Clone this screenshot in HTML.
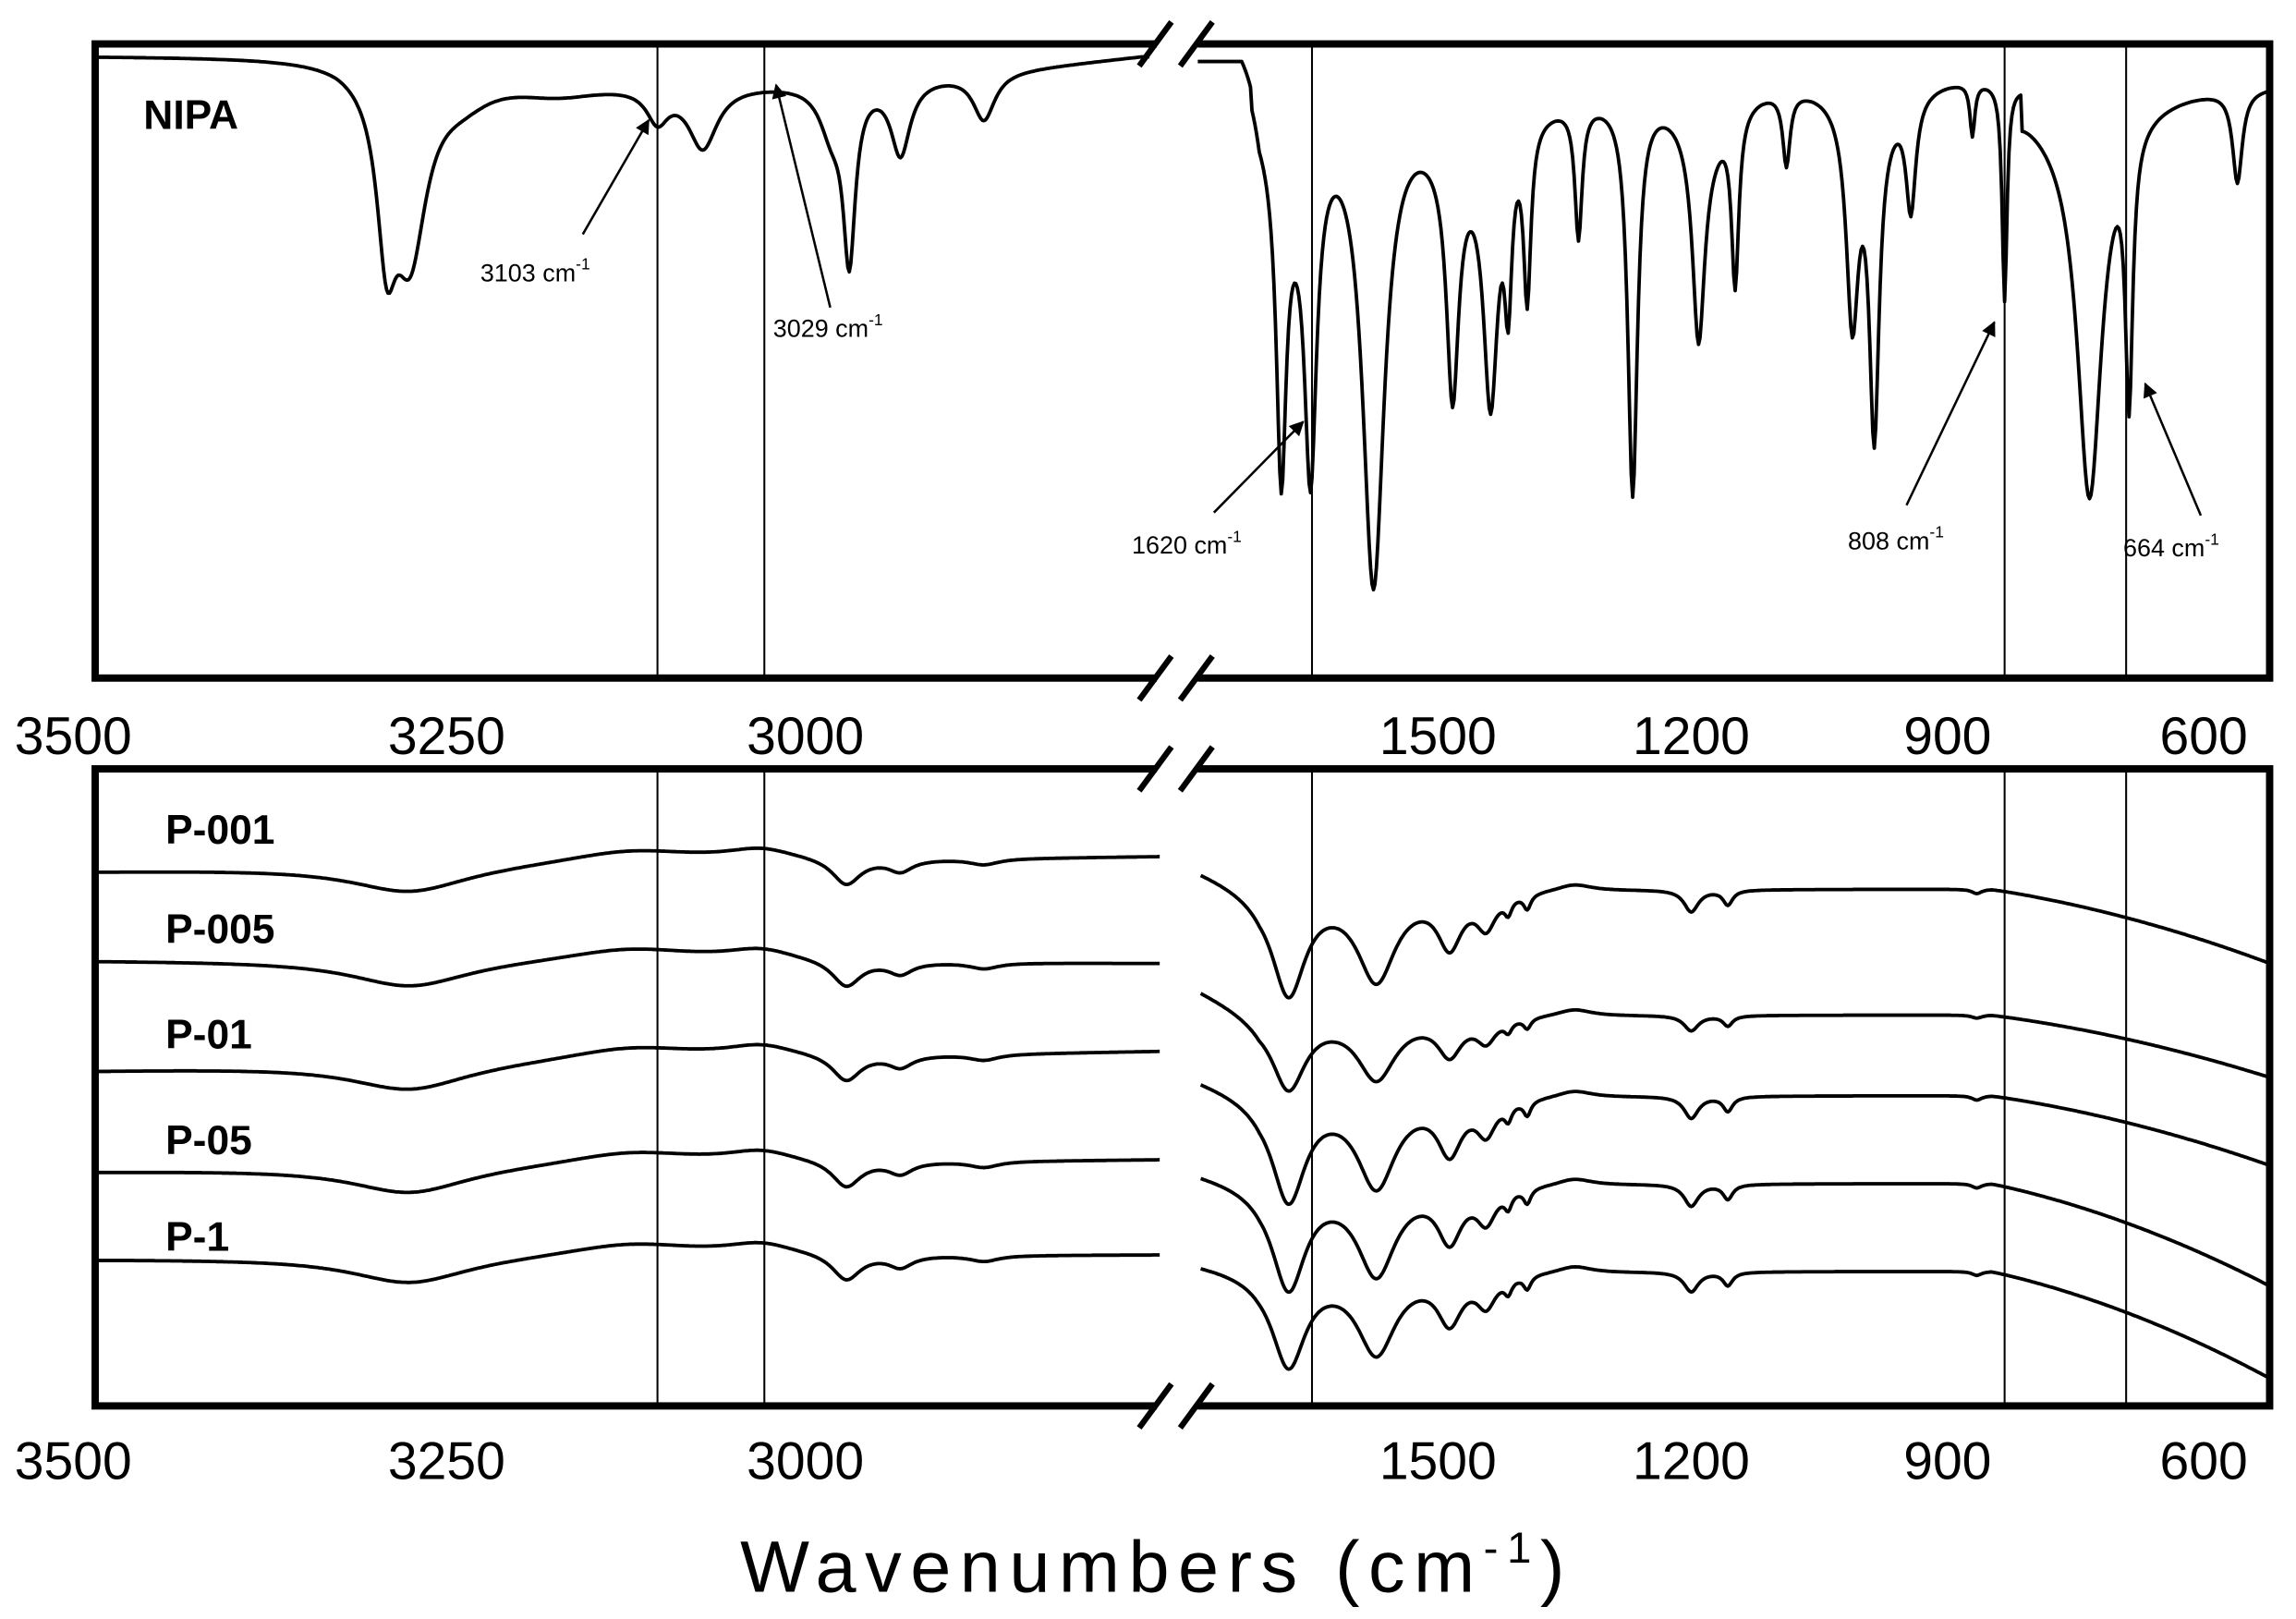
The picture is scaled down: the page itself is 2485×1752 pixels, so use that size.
<!DOCTYPE html>
<html><head><meta charset="utf-8"><style>
html,body{margin:0;padding:0;background:#fff}
svg{display:block}
text{font-family:"Liberation Sans",Arial,sans-serif;fill:#000}
</style></head><body>
<svg id="s" width="2485" height="1752" viewBox="0 0 1568 1105.5" preserveAspectRatio="none" xmlns="http://www.w3.org/2000/svg">
<rect width="1568" height="1106" fill="#fff"/>
<g id="curves" fill="none" stroke="#000" stroke-width="2.4" stroke-linejoin="round"></g>
<g stroke="#000" stroke-width="1.3">
<line x1="449" y1="30" x2="449" y2="463"/><line x1="522" y1="30" x2="522" y2="463"/>
<line x1="896" y1="30" x2="896" y2="463"/><line x1="1369" y1="30" x2="1369" y2="463"/><line x1="1452" y1="30" x2="1452" y2="463"/>
<line x1="449" y1="525" x2="449" y2="960"/><line x1="522" y1="525" x2="522" y2="960"/>
<line x1="896" y1="525" x2="896" y2="960"/><line x1="1369" y1="525" x2="1369" y2="960"/><line x1="1452" y1="525" x2="1452" y2="960"/>
</g>
<g fill="none" stroke="#000" stroke-width="5">
<rect x="65" y="30" width="1485" height="433"/>
<rect x="65" y="525" width="1485" height="435"/>
</g>
<g stroke="#000" stroke-width="4">
<rect x="790" y="20" width="28" height="20" fill="#fff" stroke="none"/>
<rect x="790" y="453" width="28" height="20" fill="#fff" stroke="none"/>
<rect x="790" y="515" width="28" height="20" fill="#fff" stroke="none"/>
<rect x="790" y="950" width="28" height="20" fill="#fff" stroke="none"/>
<line x1="778" y1="45" x2="800" y2="15"/><line x1="806" y1="45" x2="828" y2="15"/>
<line x1="778" y1="478" x2="800" y2="448"/><line x1="806" y1="478" x2="828" y2="448"/>
<line x1="778" y1="540" x2="800" y2="510"/><line x1="806" y1="540" x2="828" y2="510"/>
<line x1="778" y1="975" x2="800" y2="945"/><line x1="806" y1="975" x2="828" y2="945"/>
</g>
<g font-size="36" text-anchor="middle">
<text x="50" y="515">3500</text><text x="305" y="515">3250</text><text x="550" y="515">3000</text>
<text x="982" y="515">1500</text><text x="1155" y="515">1200</text><text x="1330" y="515">900</text><text x="1505" y="515">600</text>
<text x="50" y="1010">3500</text><text x="305" y="1010">3250</text><text x="550" y="1010">3000</text>
<text x="982" y="1010">1500</text><text x="1155" y="1010">1200</text><text x="1330" y="1010">900</text><text x="1505" y="1010">600</text>
</g>
<text x="790" y="1087" font-size="50" text-anchor="middle" letter-spacing="6">Wavenumbers (cm<tspan font-size="30" dy="-20">-1</tspan><tspan dy="20">)</tspan></text>
<g font-size="28" font-weight="bold">
<text x="98" y="88">NIPA</text>
<text x="113" y="576">P-001</text><text x="113" y="644">P-005</text><text x="113" y="716">P-01</text>
<text x="113" y="788">P-05</text><text x="113" y="854">P-1</text>
</g>
<g font-size="17">
<text x="328" y="192">3103 cm<tspan font-size="11" dy="-8">-1</tspan></text>
<text x="528" y="230">3029 cm<tspan font-size="11" dy="-8">-1</tspan></text>
<text x="773" y="378">1620 cm<tspan font-size="11" dy="-8">-1</tspan></text>
<text x="1262" y="375">808 cm<tspan font-size="11" dy="-8">-1</tspan></text>
<text x="1450" y="380">664 cm<tspan font-size="11" dy="-8">-1</tspan></text>
</g>
<defs><marker id="a" markerWidth="10" markerHeight="10" refX="9" refY="5" orient="auto" markerUnits="userSpaceOnUse"><path d="M0,0 L10,5 L0,10 z" fill="#000"/></marker></defs>
<g stroke="#000" stroke-width="1.6" marker-end="url(#a)">
<line x1="398" y1="160" x2="443" y2="82"/>
<line x1="567" y1="210" x2="530" y2="58"/>
<line x1="829" y1="350" x2="890" y2="288"/>
<line x1="1302" y1="345" x2="1362" y2="220"/>
<line x1="1503" y1="352" x2="1465" y2="262"/>
</g>
</svg>
<script>
function L(x,c,w){var d=(x-c)/w;return 1/(1+d*d);}
function path(x0,x1,f){var s="";for(var x=x0;x<=x1;x+=1){s+=(x==x0?"M":"L")+x+","+f(x).toFixed(1);}return s;}
var g=document.getElementById("curves");
function add(d){var p=document.createElementNS("http://www.w3.org/2000/svg","path");p.setAttribute("d",d);g.appendChild(p);}
var lp=[[280,120,14],[264,100,8],[315,15,25],[449,22,9],[480,42,12],[580,115,5],[568,30,10],[615,50,8],[672,32,9],[380,10,40]];
add(path(66,785,function(x){var b=38;if(x>230&&x<780)b=38+22*Math.sin(Math.PI*(x-230)/550)*0.8;var y=b;lp.forEach(function(p){y+=p[1]*L(x,p[0],p[2]);});if(x>700)y=Math.min(y,38+(785-x)*0.12+5);return y;}));
var rp=[[875,235,4],[895,240,5],[938,360,9],[992,180,5],[1018,195,6],[1030,110,3],[1043,130,3],[1078,100,3],[1115,300,4],[1160,155,5],[1185,130,3],[1220,55,3],[1265,160,5],[1280,235,4],[1305,85,4],[1347,40,2],[1369,165,2],[1427,280,10],[1454,200,3],[1528,70,4],[882,60,20],[1000,40,30],[1165,40,20],[1280,30,25]];
add(path(818,1548,function(x){var b=x<855?42:45+15*Math.exp(-Math.pow((x-1000)/200,2));if(x>1380)b=55+30*L(x,1420,40);var y=0;rp.forEach(function(p){y+=p[1]*L(x,p[0],p[2]);});var r=x<848?0:(x<860?(x-848)/12:1);y=b+0.9*y*r;return Math.min(y,460);}));
var C=[[595,585,593,607,657,1.0],[656,658,675,693,735,0.7],[731,718,736,748,795,1.0],[800,792,800,808,877,1.0],[860,857,862,868,940,0.9]];
C.forEach(function(c){
 var l0=c[0],l1=c[1];
 add(path(66,792,function(x){var t=(x-66)/726;var y=l0+(l1-l0)*t;y+=18*L(x,280,50)-10*L(x,430,60)-8*L(x,520,30)+18*L(x,578,12)+8*L(x,615,10)+4*L(x,672,12);return y;}));
 var s=c[5],st=c[2],fl=c[3],en=c[4];
 add(path(820,1548,function(x){var b;if(x<860)b=st+(fl-st)*(x-820)/40;else if(x<1360)b=fl;else{var t=(x-1360)/188;b=fl+(en-fl)*(0.6*t+0.4*t*t);}
  var y=b+s*(70*L(x,880,14)+60*L(x,940,16)+35*L(x,990,10)+22*L(x,1015,8)+10*L(x,1030,3)+10*L(x,1043,3)+15*L(x,1155,6)+10*L(x,1180,4)+3*L(x,1350,4))-5*L(x,1075,15);
  return y;}));
});
</script>
</body></html>
